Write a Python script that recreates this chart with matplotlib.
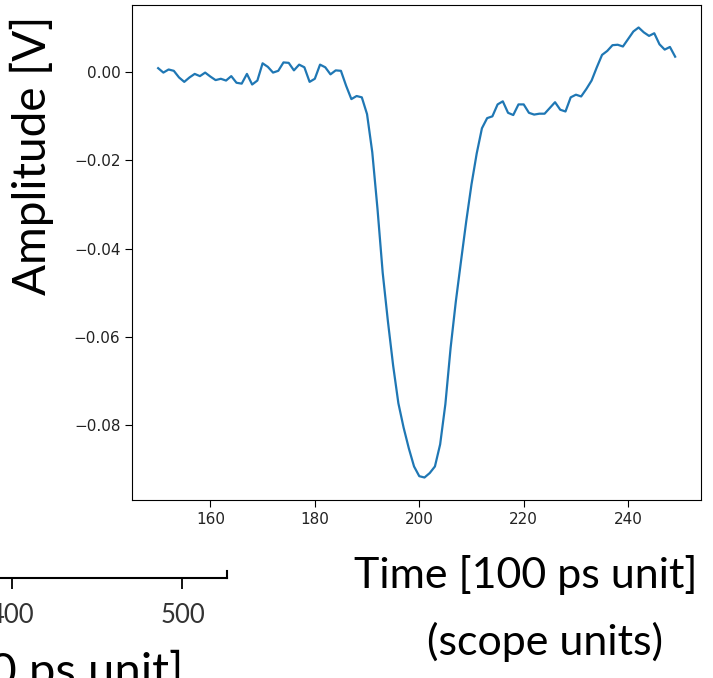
import numpy as np
import matplotlib
matplotlib.use("Agg")
import matplotlib.pyplot as plt

# scope trace, one sample per 100 ps
time_units = np.arange(150, 250)
amplitude = [
    0.0008, -0.0002, 0.0005, 0.0002, -0.0013, -0.0023, -0.0013, -0.0005, -0.0010, -0.0002,
    -0.0011, -0.0019, -0.0016, -0.0020, -0.0010, -0.0025, -0.0027, -0.0005, -0.0029, -0.0020,
    0.0019, 0.0011, -0.0002, 0.0002, 0.0021, 0.0020, 0.0003, 0.0016, 0.0010, -0.0023,
    -0.0016, 0.0016, 0.0010, -0.0006, 0.0003, 0.0002, -0.0032, -0.0062, -0.0055, -0.0058,
    -0.0096, -0.0182, -0.0310, -0.0455, -0.0565, -0.0665, -0.0750, -0.0805, -0.0852, -0.0893,
    -0.0915, -0.0918, -0.0908, -0.0893, -0.0843, -0.0752, -0.0625, -0.0520, -0.0428, -0.0338,
    -0.0255, -0.0185, -0.0128, -0.0105, -0.0101, -0.0074, -0.0067, -0.0093, -0.0098, -0.0074,
    -0.0074, -0.0093, -0.0097, -0.0095, -0.0095, -0.0082, -0.0069, -0.0086, -0.0090, -0.0058,
    -0.0052, -0.0056, -0.0039, -0.0020, 0.0010, 0.0038, 0.0047, 0.0060, 0.0061, 0.0057,
    0.0074, 0.0091, 0.0100, 0.0089, 0.0081, 0.0087, 0.0062, 0.0050, 0.0056, 0.0034,
]

# ticks of the neighbouring (cut-off) chart on the slide
side_ticks = [400, 500]
side_xlim = (340, 526)

W, H = 713, 678
fig = plt.figure(figsize=(W / 100, H / 100), dpi=100)

# fragment of the other chart, bottom left
ax2 = fig.add_axes([-89.7 / W, (H - 577.7) / H, 316.4 / W, 7 / H])
ax2.set_xlim(*side_xlim)
ax2.set_xticks(side_ticks)
ax2.set_yticks([])
ax2.spines["left"].set_visible(False)
ax2.spines["top"].set_visible(False)
ax2.spines["bottom"].set_linewidth(1.5)
ax2.spines["right"].set_linewidth(1.5)
ax2.tick_params(axis="x", length=8, width=1.3, pad=10, labelsize=18.5, labelcolor="#333333")
for lbl in ax2.get_xticklabels():
    lbl.set_family("Lato")
fig.text(183 / W, (H - 650) / H, "Time [100 ps unit]", ha="right", va="top",
         fontsize=34, family="Lato", color="black")

# main scope trace
ax = fig.add_axes([132.3 / W, (H - 500) / H, (701 - 132.3) / W, 495 / H])
ax.plot(time_units, amplitude, color="#1f77b4", linewidth=1.6)
ax.set_xticks([160, 180, 200, 220, 240])
ax.set_yticks([0.0, -0.02, -0.04, -0.06, -0.08])
ax.set_yticklabels(["0.00", "\u22120.02", "\u22120.04", "\u22120.06", "\u22120.08"])
ax.tick_params(labelsize=11, length=5, labelcolor="#222222")

fig.text(32 / W, (H - 155) / H, "Amplitude [V]", rotation=90, ha="center", va="center",
         fontsize=33, family="Lato")
fig.text(526 / W, (H - 588) / H, "Time [100 ps unit]", ha="center", va="baseline",
         fontsize=31, family="Lato")
fig.text(545 / W, (H - 655) / H, "(scope units)", ha="center", va="baseline",
         fontsize=31, family="Lato")

fig.savefig("out.png", dpi=100)
